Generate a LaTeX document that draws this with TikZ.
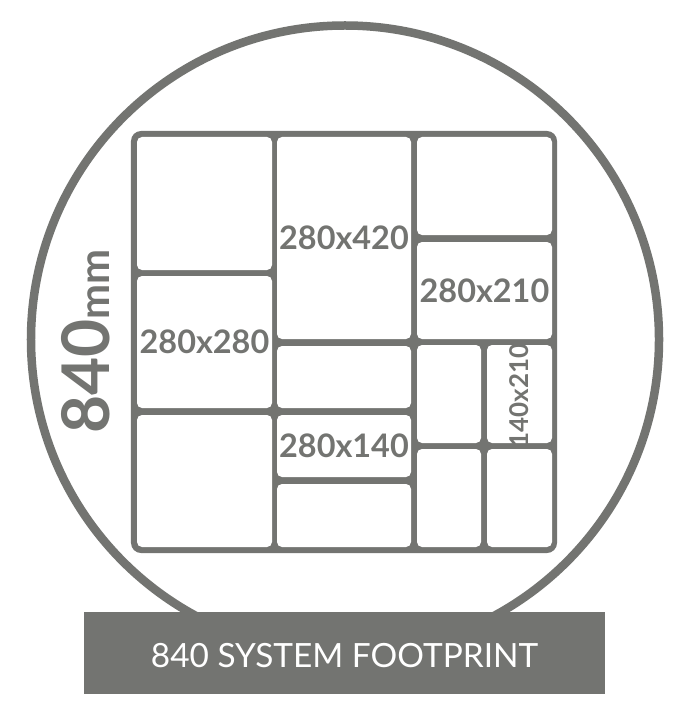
\documentclass[tikz,border=0pt]{standalone}
\usepackage{fontspec}
\setmainfont{Lato}
\definecolor{fgray}{RGB}{115,116,113}
\tikzset{
  cellst/.style={fill=white, draw=none, rounded corners=5bp, inner sep=0pt, anchor=center},
  lbl/.style={text=fgray, font=\bfseries\fontsize{32.5}{36}\selectfont, inner sep=0pt},
}
\begin{document}
\begin{tikzpicture}[x=1bp,y=-1bp]
\useasboundingbox (0,0) rectangle (687,718);
\fill[white] (0,0) rectangle (687,718);
% circle
\draw[fgray, line width=8.5bp] (345,339.5) circle[radius=314bp];
% frame
\node[fill=fgray, rounded corners=10bp, inner sep=0pt, minimum width=426bp, minimum height=422bp] (frame) at (344,342) {};
% cells
\node[cellst, minimum width=135bp, minimum height=133bp] (A) at (204.5,203.5) {};
\node[cellst, minimum width=135bp, minimum height=132bp] (B) at (204.5,342) {};
\node[cellst, minimum width=135bp, minimum height=132bp] (C) at (204.5,481) {};
\node[cellst, minimum width=134bp, minimum height=202bp] (D) at (344,238) {};
\node[cellst, minimum width=134bp, minimum height=62bp] (E) at (344,377) {};
\node[cellst, minimum width=134bp, minimum height=62bp] (F) at (344,446) {};
\node[cellst, minimum width=134bp, minimum height=63bp] (G) at (344,515.5) {};
\node[cellst, minimum width=135bp, minimum height=98bp] (H) at (484.5,186) {};
\node[cellst, minimum width=135bp, minimum height=97bp] (I) at (484.5,290.5) {};
\node[cellst, minimum width=64bp, minimum height=98bp] (J) at (449,394) {};
\node[cellst, minimum width=65bp, minimum height=98bp] (K) at (519.5,394) {};
\node[cellst, minimum width=64bp, minimum height=98bp] (L) at (449,498) {};
\node[cellst, minimum width=65bp, minimum height=98bp] (M) at (519.5,498) {};
% labels
\node[lbl] (lD) at (D.center) {280x420};
\node[lbl] (lI) at (I.center) {280x210};
\node[lbl] (lB) at (B.center) {280x280};
\node[lbl] (lF) at (F.center) {280x140};
\node[lbl, rotate=90, font=\bfseries\fontsize{26}{30}\selectfont] (lK) at ([yshift=-1.5bp]K.center) {140x210};
% side label
\node[text=fgray, rotate=90, anchor=base, inner sep=0pt] (side) at (109,341.5)
  {\bfseries\fontsize{66}{70}\selectfont 840\fontsize{42}{44}\selectfont mm};
% bar
\node[fill=fgray, inner sep=0pt, minimum width=521bp, minimum height=82bp] (bar) at (344.5,653) {};
\node[text=white, anchor=base, inner sep=0pt, font=\fontsize{33.5}{38}\selectfont] (barlbl) at (344.5,667.5) {840 SYSTEM FOOTPRINT};
\end{tikzpicture}
\end{document}
